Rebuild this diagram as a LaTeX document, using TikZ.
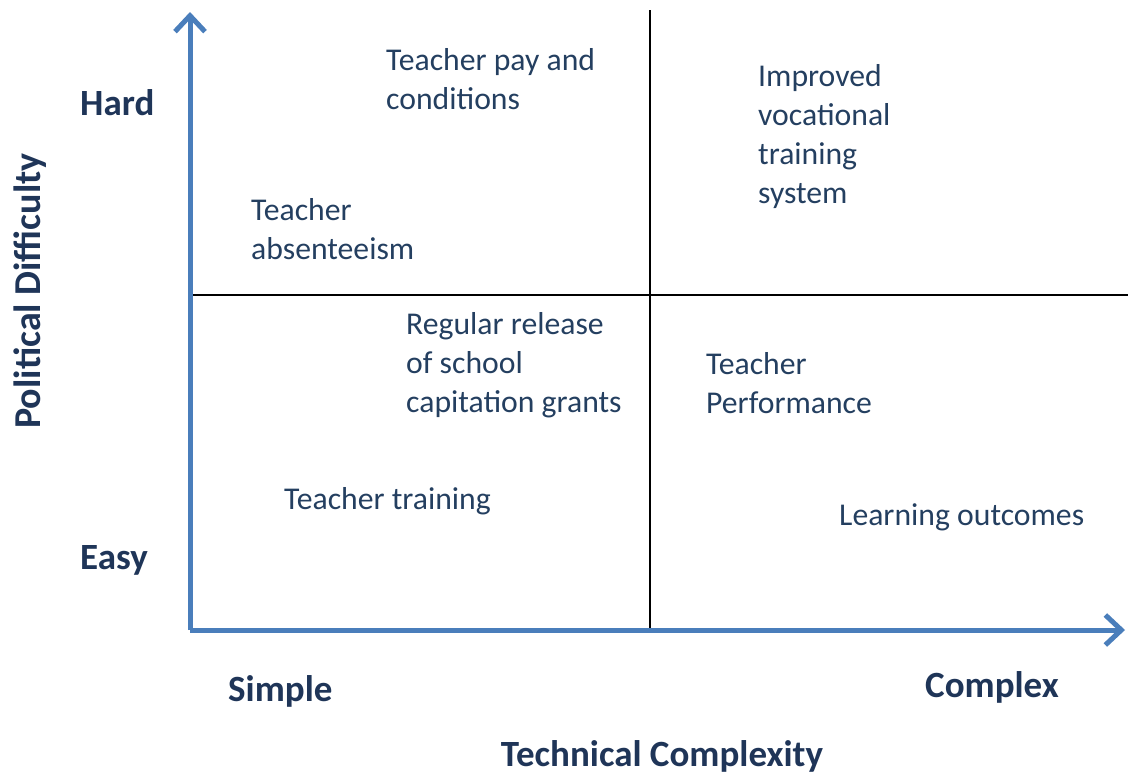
\documentclass[tikz,border=0pt]{standalone}
\usepackage{fontspec}
\setmainfont{Carlito}
\usetikzlibrary{arrows.meta}
\definecolor{axisblue}{HTML}{4A7EBB}
\definecolor{txt}{HTML}{243F60}
\definecolor{btxt}{HTML}{1F3558}
\begin{document}
\begin{tikzpicture}[x=1pt,y=-1pt,
  axis/.style={draw=axisblue,line width=5pt,-{Straight Barb[length=16pt,width=30pt,line width=5pt]}},
  divider/.style={draw=black,line width=2pt},
  item/.style={anchor=west,inner sep=0pt,align=left,text=txt,font=\fontsize{31.7}{39}\selectfont},
  lab/.style={inner sep=0pt,text=btxt,font=\fontsize{37}{42}\selectfont\bfseries}]
\useasboundingbox (0,0) rectangle (1128,774);
% grid lines
\coordinate (vt) at (650,10);
\coordinate (vb) at (650,630);
\coordinate (hl) at (190,295);
\coordinate (hr) at (1128,295);
\draw[divider] (vt) -- (vb);
\draw[divider] (hl) -- (hr);
% axes
\coordinate (o) at (190,630);
\coordinate (ytop) at (190,12);
\coordinate (xend) at (1125,630);
\draw[axis] (o) -- (ytop);
\draw[axis] (o) -- (xend);
% items
\node[item] (pay) at (386,79) {Teacher pay and\\conditions};
\node[item] (voc) at (758,137) {Improved\\vocational\\training\\system};
\node[item] (abs) at (251,229) {Teacher\\absenteeism};
\node[item] (grant) at (406,365) {Regular release\\of school\\capitation grants};
\node[item] (perf) at (706,383) {Teacher\\Performance};
\node[item] (train) at (284,501) {Teacher training};
\node[item] (learn) at (839,517) {Learning outcomes};
% labels
\node[lab,anchor=west] (hard) at (80,103) {Hard};
\node[lab,anchor=west] (easy) at (80,560) {Easy};
\node[lab,anchor=west] (simple) at (228,691) {Simple};
\node[lab,anchor=west] (complex) at (925,687) {Complex};
\node[lab] (tc) at (662,756) {Technical Complexity};
\node[lab,rotate=90,font=\fontsize{38}{42}\selectfont\bfseries] (pd) at (30,291) {Political Difficulty};
\end{tikzpicture}
\end{document}
